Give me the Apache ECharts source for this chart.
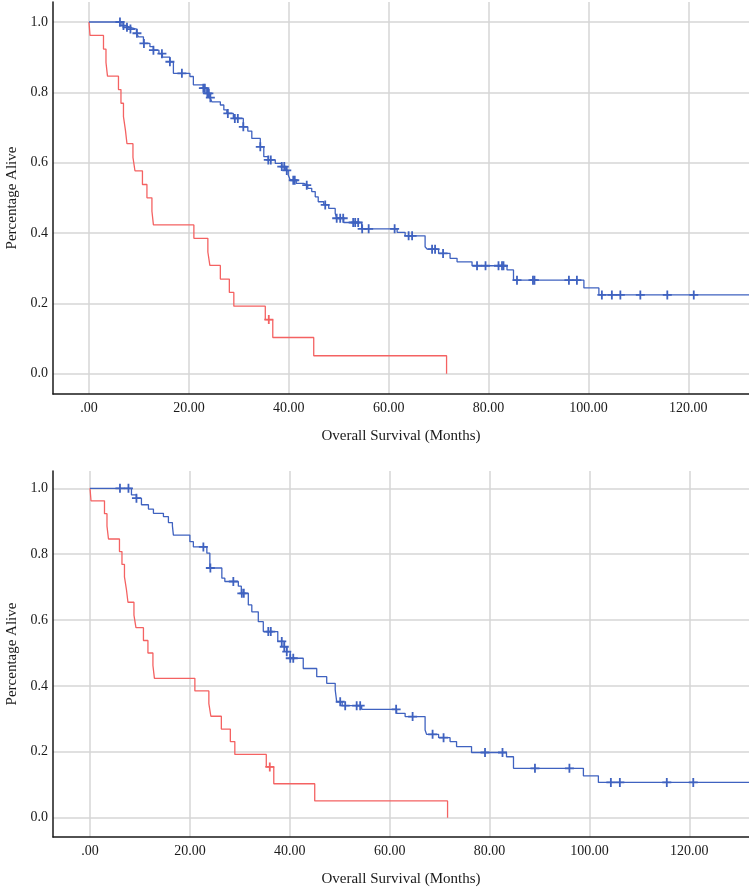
<!DOCTYPE html>
<html><head><meta charset="utf-8">
<script src="https://cdn.jsdelivr.net/npm/echarts@6/dist/echarts.min.js"></script>
<style>html,body{margin:0;padding:0;background:#fff}#c{width:749px;height:889px}</style>
</head><body><div id="c"></div>
<script>
// ---- tick labels ----
const xTicks = [0, 20, 40, 60, 80, 100, 120];
const yTicks = [0, 0.2, 0.4, 0.6, 0.8, 1.0];

// ---- red group (same in both panels) ----
const redTimes = [0, 0.2, 2.9, 3.4, 3.7, 5.9, 6.4, 6.9, 7.3, 7.6, 8.8, 9.2, 10.7, 11.6, 12.6, 12.9, 21.0, 23.8, 24.2, 26.3, 28.1, 29.0, 35.3, 36.8, 45.0, 71.6];
const redSurv  = [1, 0.962, 0.923, 0.885, 0.846, 0.808, 0.769, 0.731, 0.692, 0.654, 0.615, 0.577, 0.538, 0.5, 0.462, 0.423, 0.385, 0.346, 0.308, 0.269, 0.231, 0.192, 0.154, 0.103, 0.051, 0];
const redCensorTimes = [36.0];

// ---- blue group, top panel ----
const blueTopTimes = [0, 6.6, 7.4, 8.2, 9.5, 9.9, 10.9, 12.2, 12.9, 14.0, 14.7, 16.2, 16.9, 20.2, 20.9, 22.9, 23.6, 24.2, 24.6, 26.3, 27.0, 27.6, 28.9, 30.9, 31.8, 32.6, 34.3, 35.0, 35.9, 37.3, 38.6, 39.3, 39.9, 40.3, 41.5, 43.0, 43.8, 44.6, 45.3, 45.9, 47.0, 48.0, 49.3, 49.6, 51.0, 54.6, 61.7, 63.3, 67.3, 67.7, 70.0, 72.3, 73.7, 76.7, 83.7, 85.0, 99.1, 102.1, 135];
const blueTopSurv  = [1.0, 0.990, 0.985, 0.980, 0.968, 0.958, 0.939, 0.930, 0.920, 0.910, 0.900, 0.887, 0.854, 0.845, 0.821, 0.812, 0.797, 0.785, 0.773, 0.764, 0.750, 0.740, 0.726, 0.702, 0.690, 0.669, 0.645, 0.617, 0.608, 0.598, 0.589, 0.578, 0.565, 0.550, 0.541, 0.536, 0.527, 0.518, 0.503, 0.489, 0.480, 0.470, 0.456, 0.442, 0.430, 0.412, 0.402, 0.392, 0.361, 0.354, 0.342, 0.328, 0.318, 0.307, 0.295, 0.266, 0.244, 0.224, 0.224];
const blueTopCensorTimes = [6.2, 6.9, 7.6, 8.3, 9.6, 11.0, 12.9, 14.6, 16.2, 18.6, 22.9, 23.2, 23.7, 24.0, 24.3, 27.8, 29.2, 29.8, 30.9, 34.3, 35.9, 36.4, 38.6, 39.1, 39.6, 40.9, 41.2, 43.6, 47.3, 49.6, 50.3, 50.9, 52.9, 53.3, 53.9, 54.7, 56.0, 61.2, 64.0, 64.7, 68.7, 69.3, 70.9, 77.7, 79.4, 82.0, 82.7, 83.0, 85.7, 88.9, 89.2, 96.1, 97.7, 102.7, 104.7, 106.4, 110.4, 115.8, 121.1];

// ---- blue group, bottom panel ----
const blueBotTimes = [0, 8.3, 9.3, 10.3, 11.7, 12.7, 14.7, 15.7, 16.5, 16.7, 20.0, 20.7, 23.4, 24.0, 26.4, 27.0, 29.7, 30.3, 31.7, 32.4, 33.7, 34.7, 37.6, 38.9, 39.4, 40.1, 42.7, 45.4, 47.4, 49.1, 49.4, 50.5, 54.4, 61.4, 63.1, 67.1, 67.4, 69.8, 72.1, 73.4, 76.4, 83.4, 84.8, 98.8, 101.8, 135];
const blueBotSurv  = [1.0, 0.980, 0.970, 0.950, 0.937, 0.924, 0.914, 0.896, 0.886, 0.858, 0.838, 0.822, 0.803, 0.758, 0.727, 0.717, 0.703, 0.681, 0.646, 0.625, 0.595, 0.565, 0.535, 0.519, 0.504, 0.484, 0.453, 0.428, 0.408, 0.388, 0.352, 0.340, 0.329, 0.317, 0.307, 0.266, 0.253, 0.243, 0.231, 0.216, 0.198, 0.185, 0.150, 0.127, 0.107, 0.107];
const blueBotCensorTimes = [6.0, 7.7, 9.3, 22.7, 24.1, 28.7, 30.4, 30.8, 35.7, 36.2, 38.4, 38.9, 39.4, 40.1, 40.7, 50.1, 51.1, 53.4, 54.1, 61.3, 64.6, 68.6, 70.8, 79.1, 82.6, 89.1, 96.0, 104.3, 106.1, 115.5, 120.8];

// ---- styling ----
const BLUE = '#3f62c0';
const RED = '#f46262';
const FONT = 'Liberation Serif';
const PLUS = 'path://M3.2,0H4.8V3.2H8V4.8H4.8V8H3.2V4.8H0V3.2H3.2Z';

function zip(t, s) { return t.map((v, i) => [v, s[i]]); }
function stepAt(times, surv, t) {
  let s = surv[0];
  for (let i = 0; i < times.length; i++) { if (times[i] <= t) s = surv[i]; else break; }
  return s;
}
function censor(ct, times, surv) { return ct.map(t => [t, stepAt(times, surv, t)]); }

function xAxisCfg(idx, min, max) {
  return {
    type: 'value', gridIndex: idx, min: min, max: max,
    axisLine: { show: true, onZero: false, lineStyle: { color: '#1a1a1a', width: 1.5 } },
    axisTick: { show: false, customValues: xTicks },
    axisLabel: { customValues: xTicks, formatter: v => v === 0 ? '.00' : v.toFixed(2),
      fontFamily: FONT, fontSize: 14, color: '#1a1a1a', margin: 7 },
    splitLine: { show: true, lineStyle: { color: '#d6d6d6', width: 1.5 } },
    name: 'Overall Survival (Months)', nameLocation: 'middle', nameGap: 35,
    nameTextStyle: { fontFamily: FONT, fontSize: 15, color: '#1a1a1a' }
  };
}
function yAxisCfg(idx, min, max) {
  return {
    type: 'value', gridIndex: idx, min: min, max: max,
    axisLine: { show: true, onZero: false, lineStyle: { color: '#1a1a1a', width: 1.5 } },
    axisTick: { show: false, customValues: yTicks },
    axisLabel: { customValues: yTicks, formatter: v => v.toFixed(1),
      fontFamily: FONT, fontSize: 14, color: '#1a1a1a', margin: 5 },
    splitLine: { show: true, lineStyle: { color: '#d6d6d6', width: 1.5 } },
    name: 'Percentage Alive', nameLocation: 'middle', nameGap: 32, nameRotate: 90,
    nameTextStyle: { fontFamily: FONT, fontSize: 15, color: '#1a1a1a' }
  };
}
function lineSeries(idx, data, color) {
  return { type: 'line', xAxisIndex: idx, yAxisIndex: idx, step: 'end', symbol: 'none',
    data: data, lineStyle: { color: color, width: 1.3 }, itemStyle: { color: color }, z: 3 };
}
function censorSeries(idx, data, color) {
  return { type: 'scatter', xAxisIndex: idx, yAxisIndex: idx, symbol: PLUS, symbolSize: 9,
    data: data, itemStyle: { color: color, opacity: 1 }, z: 4 };
}

const chart = echarts.init(document.getElementById('c'), null, { renderer: 'canvas' });
chart.setOption({
  animation: false,
  backgroundColor: '#ffffff',
  grid: [
    { left: 53, right: 0, top: 2, height: 392, containLabel: false, outerBoundsMode: 'none' },
    { left: 53, right: 0, top: 471, height: 366, containLabel: false, outerBoundsMode: 'none' }
  ],
  xAxis: [xAxisCfg(0, -7.21, 132.16), xAxisCfg(1, -7.41, 131.96)],
  yAxis: [yAxisCfg(0, -0.0577, 1.0569), yAxisCfg(1, -0.0586, 1.0525)],
  series: [
    lineSeries(0, zip(redTimes, redSurv), RED),
    lineSeries(0, zip(blueTopTimes, blueTopSurv), BLUE),
    censorSeries(0, censor(redCensorTimes, redTimes, redSurv), RED),
    censorSeries(0, censor(blueTopCensorTimes, blueTopTimes, blueTopSurv), BLUE),
    lineSeries(1, zip(redTimes, redSurv), RED),
    lineSeries(1, zip(blueBotTimes, blueBotSurv), BLUE),
    censorSeries(1, censor(redCensorTimes, redTimes, redSurv), RED),
    censorSeries(1, censor(blueBotCensorTimes, blueBotTimes, blueBotSurv), BLUE)
  ]
});
</script>
</body></html>
